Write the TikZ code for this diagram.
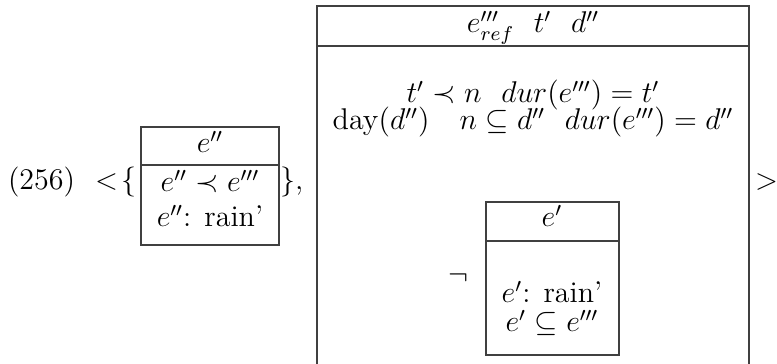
\documentclass[tikz,border=0pt]{standalone}
\begin{document}
\begin{tikzpicture}[x=0.4pt,y=-0.4pt,
  boxline/.style={draw=black!75,line width=0.45pt},
  txt/.style={inner sep=0pt,outer sep=0pt,anchor=base,font=\fontsize{12}{14}\selectfont}]
\useasboundingbox (0,0) rectangle (777,364);
% left small box
\draw[boxline] (141,127) rectangle (279,245);
\draw[boxline] (141,165) -- (279,165);
% big box (cut off at the bottom)
\draw[boxline] (317,370) -- (317,6) -- (749,6) -- (749,370);
\draw[boxline] (317,46) -- (749,46);
% inner box
\draw[boxline] (486,202) rectangle (619,355);
\draw[boxline] (486,241) -- (619,241);
% texts
\node[txt,anchor=base west] (num) at (8,190) {(256)};
\node[txt,anchor=base west] (open) at (95,190) {$<\!\{$};
\node[txt,anchor=base west] (close) at (280,190) {$\}$,};
\node[txt,anchor=base west] (gt) at (755,190) {$>$};
\node[txt] (lh) at (210,153) {$e''$};
\node[txt] (l1) at (210,192) {$e''\prec e'''$};
\node[txt] (l2) at (210,227) {$e''$: rain'};
\node[txt] (bh) at (533,33) {$e'''_{ref}\ \ t'\ \ d''$};
\node[txt,text depth=1pt] (b1) at (533,103) {$t'\prec n\ \ dur(e''')=t'$};
\node[txt,text height=6.5pt] (b2) at (533,130) {$\mathrm{day}(d'')\quad n\subseteq d''\ \ dur(e''')=d''$};
\node[txt] (neg) at (458,285) {$\neg$};
\node[txt] (ih) at (552,227) {$e'$};
\node[txt] (i1) at (552,303) {$e'$: rain'};
\node[txt] (i2) at (552,332) {$e'\subseteq e'''$};
\end{tikzpicture}
\end{document}
